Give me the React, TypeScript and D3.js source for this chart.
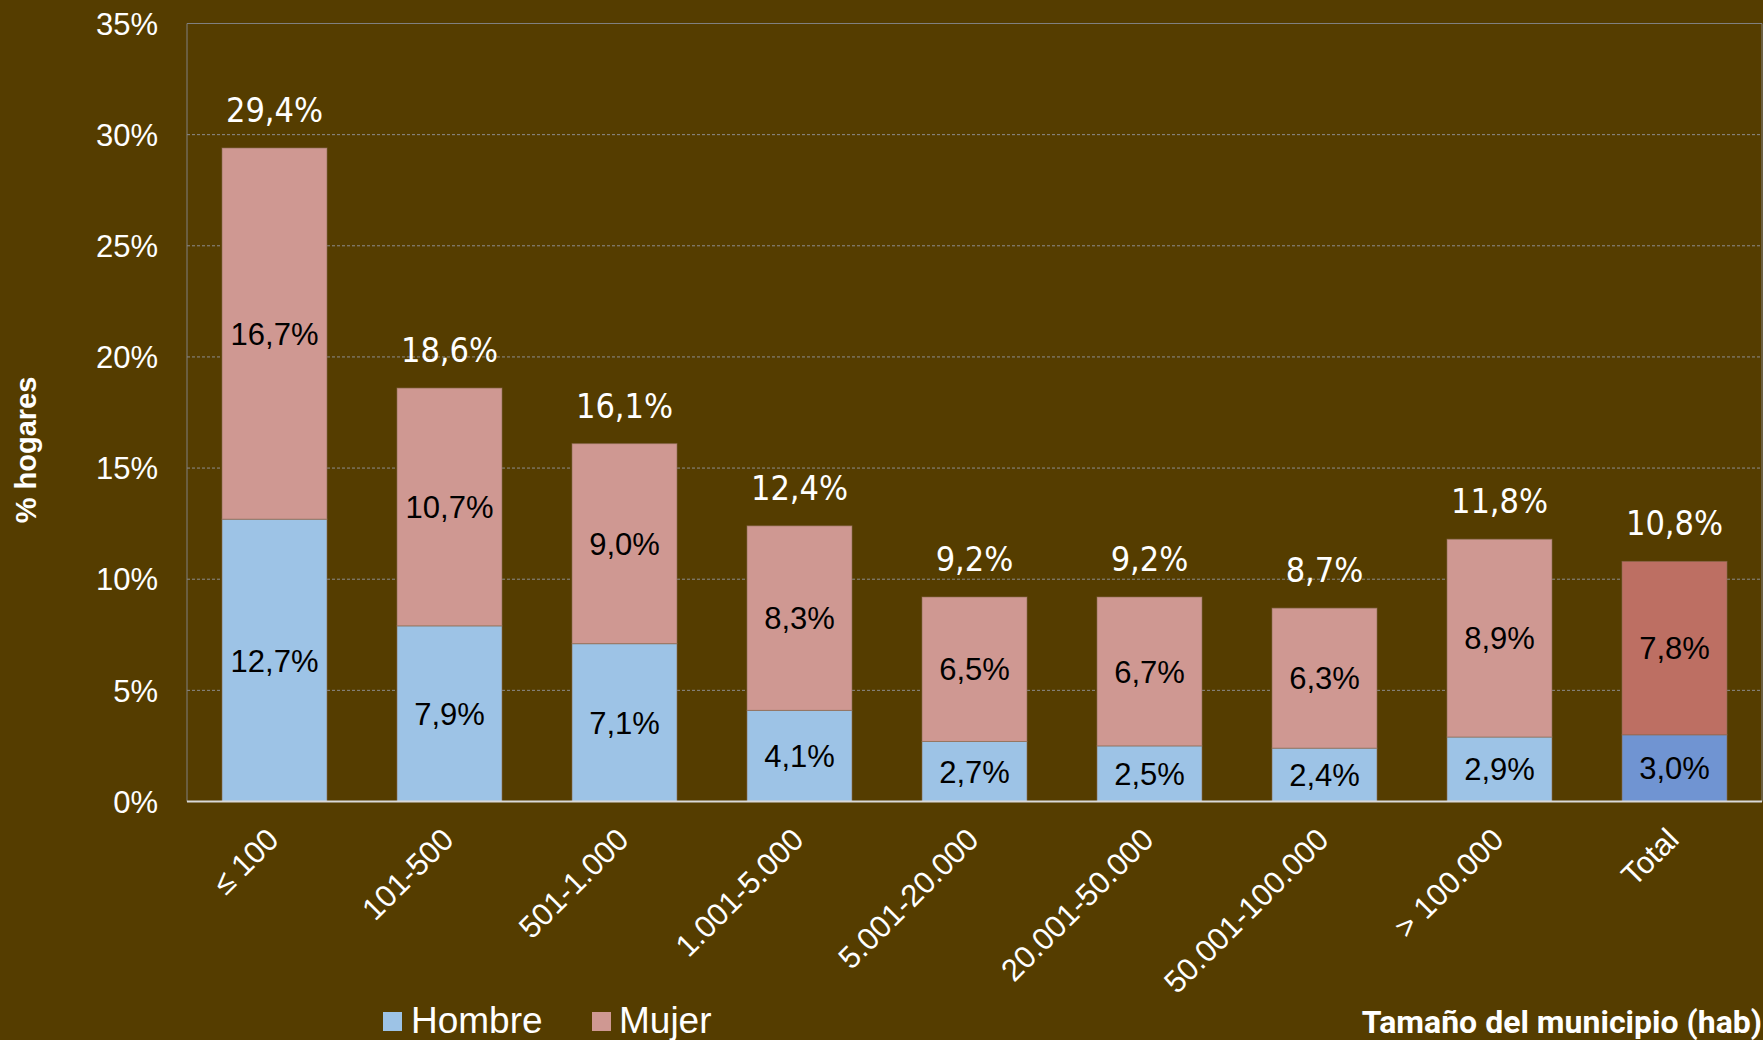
import React from 'react';
import * as d3 from 'd3';

// tamaño del municipio (hab)
const categories = ['≤ 100', '101-500', '501-1.000', '1.001-5.000', '5.001-20.000', '20.001-50.000', '50.001-100.000', '> 100.000', 'Total'];
// % hogares, por sexo de la persona de referencia
const hombre = [12.7, 7.9, 7.1, 4.1, 2.7, 2.5, 2.4, 2.9, 3.0];
const mujer = [16.7, 10.7, 9.0, 8.3, 6.5, 6.7, 6.3, 8.9, 7.8];
const totales = [29.4, 18.6, 16.1, 12.4, 9.2, 9.2, 8.7, 11.8, 10.8];
const yTicks = [0, 5, 10, 15, 20, 25, 30, 35];

const W = 1763, H = 1040;
const left = 187, right = 1762, top = 23.5, bottom = 801.5;

const BG = '#553d00';
const colors = {
    hombre: '#9dc3e6', mujer: '#cf9892',
    hombreTotal: '#7094d2', mujerTotal: '#bd6f63'
};

const es = d3.formatLocale({ decimal: ',', thousands: '.', grouping: [3], currency: ['', '€'] });
const fmt = (v: number) => es.format('.1f')(v) + '%';

export default function App() {
    const x = d3.scaleBand().domain(categories).range([left, right]).paddingInner(0.4).paddingOuter(0.2);
    const y = d3.scaleLinear().domain([0, 35]).range([bottom, top]);

    const rows = categories.map((c, i) => ({ cat: c, hombre: hombre[i], mujer: mujer[i] }));
    const stack = d3.stack<any>().keys(['hombre', 'mujer'])(rows);

    const fill = (key: string, cat: string) =>
        cat === 'Total' ? (key === 'hombre' ? colors.hombreTotal : colors.mujerTotal) : (colors as any)[key];

    return (
        <svg width={W} height={H} style={{ position: 'absolute', left: 0, top: 0, background: BG }}>
            <rect x={0} y={0} width={W} height={H} fill={BG} />
            {/* grid */}
            {yTicks.filter(t => t > 0 && t < 35).map(t =>
                <line key={t} x1={left} x2={right} y1={y(t)} y2={y(t)}
                      stroke="#8c8c8c" strokeWidth={1} strokeDasharray="3,2" />
            )}
            <line x1={left} x2={right} y1={y(35)} y2={y(35)} stroke="#808080" strokeWidth={1} />
            <line x1={left} x2={left} y1={top} y2={bottom} stroke="#808080" strokeWidth={1} />
            <line x1={right} x2={right} y1={top} y2={bottom} stroke="#808080" strokeWidth={1} />

            {/* bars */}
            {stack.map(layer =>
                layer.map((d, i) =>
                    <rect key={layer.key + i}
                          x={x(categories[i])}
                          y={y(d[1])}
                          width={x.bandwidth()}
                          height={y(d[0]) - y(d[1])}
                          fill={fill(layer.key, categories[i])}
                          stroke="#8a6a52" strokeOpacity={0.6} strokeWidth={1} />
                )
            )}
            {/* segment labels */}
            {stack.map(layer =>
                layer.map((d, i) =>
                    <text key={'l' + layer.key + i}
                          x={x(categories[i])! + x.bandwidth() / 2}
                          y={y((d[0] + d[1]) / 2)}
                          dy="0.36em"
                          textAnchor="middle"
                          fontFamily="'Liberation Sans', Arial, sans-serif"
                          fontSize={31}
                          fill="#000">{fmt(d[1] - d[0])}</text>
                )
            )}
            {/* totals */}
            {totales.map((t, i) =>
                <text key={'t' + i}
                      x={x(categories[i])! + x.bandwidth() / 2}
                      y={y(t) - 26}
                      textAnchor="middle"
                      fontFamily="'DejaVu Sans Condensed', 'DejaVu Sans', sans-serif"
                      fontSize={34}
                      fill="#fff">{fmt(t)}</text>
            )}

            <line x1={left} x2={right} y1={bottom} y2={bottom} stroke="#d9d9d9" strokeWidth={2} />

            {/* y axis */}
            {yTicks.map(t =>
                <text key={'y' + t} x={158} y={y(t)} dy="0.36em" textAnchor="end"
                      fontFamily="'Liberation Sans', Arial, sans-serif" fontSize={31} fill="#fff">{t + '%'}</text>
            )}
            <text transform={`translate(36,450) rotate(-90)`} textAnchor="middle"
                  fontFamily="'Liberation Sans', Arial, sans-serif" fontSize={29} fontWeight="bold" fill="#fff">% hogares</text>

            {/* x axis */}
            {categories.map(c =>
                <text key={'x' + c}
                      transform={`translate(${x(c)! + x.bandwidth() / 2 + 6},${bottom + 40}) rotate(-45)`}
                      textAnchor="end"
                      fontFamily="'Liberation Sans', Arial, sans-serif" fontSize={31} fill="#fff">{c}</text>
            )}
            <text x={1762} y={1033} textAnchor="end" fontFamily="Roboto, sans-serif" fontWeight="bold"
                  fontSize={32} fill="#fff">Tamaño del municipio (hab)</text>

            {/* legend */}
            <rect x={383} y={1012} width={19} height={19} fill={colors.hombre} />
            <text x={411} y={1033} fontFamily="'Liberation Sans', Arial, sans-serif" fontSize={37} fill="#fff">Hombre</text>
            <rect x={592} y={1012} width={19} height={19} fill={colors.mujer} />
            <text x={619} y={1033} fontFamily="'Liberation Sans', Arial, sans-serif" fontSize={37} fill="#fff">Mujer</text>
        </svg>
    );
}
